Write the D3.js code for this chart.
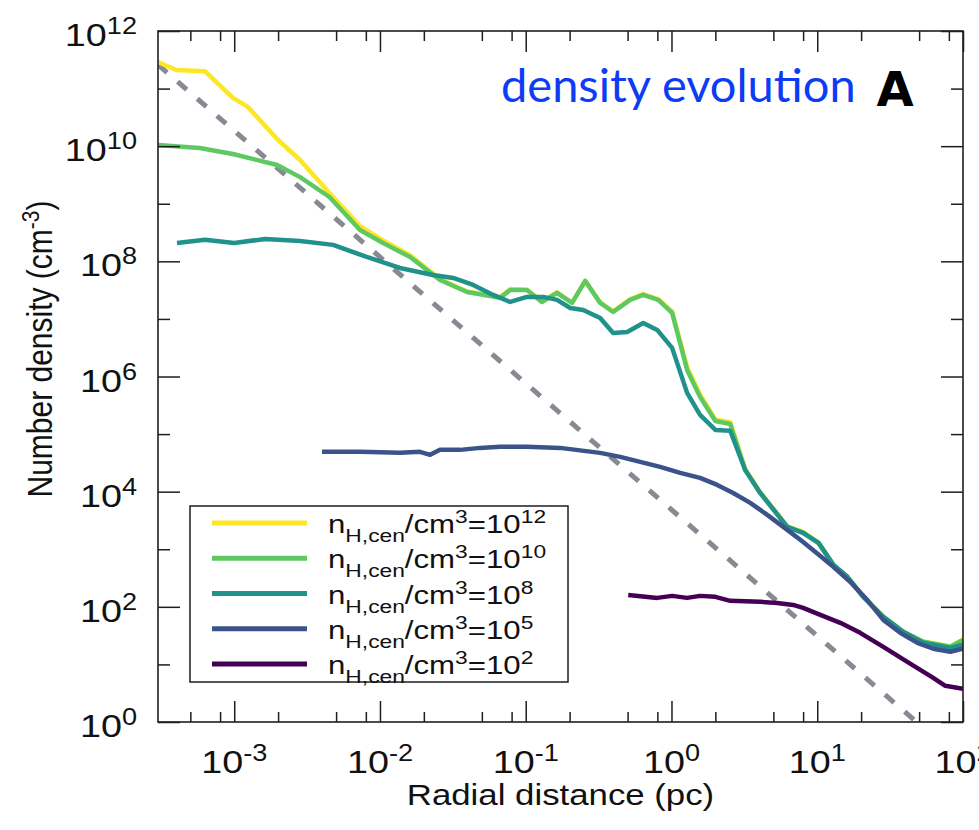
<!DOCTYPE html>
<html>
<head>
<meta charset="utf-8">
<script src="https://cdn.jsdelivr.net/npm/d3@7"></script>
<style>
  html, body { margin: 0; padding: 0; background: #fff; }
  svg { display: block; }
</style>
</head>
<body>
<svg id="chart" width="979" height="830"></svg>
<script>
// Radial density profiles for five central densities (r in pc, n in cm^-3)
const rN12 = [3.0e-4, 4.0e-4, 6.3e-4, 9.8e-4, 1.24e-3, 2.0e-3, 2.83e-3, 4.5e-3, 7.3e-3, 1.05e-2, 1.61e-2, 2.58e-2, 3.96e-2, 6.67e-2, 7.82e-2, 0.102, 0.129, 0.164, 0.208, 0.256, 0.324, 0.398, 0.521, 0.640, 0.811, 1.01, 1.28, 1.57, 2.0, 2.53, 3.2, 4.06, 6.23, 8.0, 10.2, 12.9, 16.1, 20.7, 28.4, 38.9, 53.4, 81.8, 100];
const nN12 = [2.9e11, 2.1e11, 2.0e11, 6.9e10, 4.8e10, 1.28e10, 5.75e9, 1.54e9, 4.1e8, 2.3e8, 1.28e8, 4.9e7, 3.0e7, 2.4e7, 3.3e7, 3.2e7, 2.0e7, 2.9e7, 1.9e7, 4.6e7, 1.95e7, 1.35e7, 2.2e7, 2.7e7, 2.2e7, 1.35e7, 1.45e6, 4.9e5, 1.8e5, 1.6e5, 2.5e4, 9.8e3, 2.5e3, 2.0e3, 1.3e3, 540, 335, 150, 68, 37, 25, 20.5, 27];

const rN10 = [3.0e-4, 5.8e-4, 9.8e-4, 1.97e-3, 2.83e-3, 4.5e-3, 7.3e-3, 1.05e-2, 1.61e-2, 2.58e-2, 3.96e-2, 6.67e-2, 7.82e-2, 0.102, 0.129, 0.164, 0.208, 0.256, 0.324, 0.398, 0.521, 0.640, 0.811, 1.01, 1.28, 1.57, 2.0, 2.53, 3.2, 4.06, 6.23, 8.0, 10.2, 12.9, 16.1, 20.7, 28.4, 38.9, 53.4, 81.8, 100];
const nN10 = [1.05e10, 9.3e9, 7.3e9, 4.7e9, 2.9e9, 1.31e9, 3.5e8, 2.08e8, 1.19e8, 4.75e7, 2.94e7, 2.32e7, 3.18e7, 3.18e7, 1.97e7, 2.83e7, 1.9e7, 4.57e7, 1.9e7, 1.32e7, 2.14e7, 2.61e7, 2.14e7, 1.27e7, 1.30e6, 4.43e5, 1.69e5, 1.5e5, 2.39e4, 9.5e3, 2.45e3, 1.93e3, 1.29e3, 536, 332, 149, 67, 36.8, 24.7, 20.2, 26.7];

const rN8 = [4.05e-4, 6.3e-4, 1.0e-3, 1.63e-3, 2.83e-3, 4.77e-3, 8.1e-3, 1.37e-2, 2.31e-2, 3.18e-2, 4.36e-2, 5.98e-2, 7.82e-2, 0.102, 0.132, 0.164, 0.202, 0.248, 0.324, 0.398, 0.497, 0.640, 0.798, 1.01, 1.28, 1.57, 2.0, 2.53, 3.2, 4.06, 6.23, 8.0, 10.2, 12.9, 16.1, 20.7, 28.4, 38.9, 53.4, 81.8, 100];
const nN8 = [2.08e8, 2.36e8, 2.08e8, 2.45e8, 2.26e8, 1.93e8, 1.19e8, 7.68e7, 5.8e7, 5.15e7, 3.89e7, 2.61e7, 1.97e7, 2.41e7, 2.41e7, 2.14e7, 1.55e7, 1.43e7, 1.04e7, 5.71e6, 5.94e6, 8.5e6, 6.44e6, 3.14e6, 5.19e5, 2.15e5, 1.18e5, 1.14e5, 2.39e4, 9.5e3, 2.45e3, 1.93e3, 1.29e3, 536, 332, 149, 67, 36.8, 23.7, 19.4, 21.9];

const rN5 = [4.0e-3, 7.3e-3, 1.37e-2, 1.88e-2, 2.21e-2, 2.58e-2, 3.55e-2, 4.86e-2, 6.67e-2, 0.102, 0.172, 0.324, 0.445, 0.610, 0.836, 1.148, 1.57, 2.06, 2.65, 3.47, 4.54, 6.23, 8.0, 10.5, 12.9, 16.8, 22.0, 28.4, 37.1, 48.6, 62.5, 81.8, 100];
const nN5 = [4.91e4, 4.91e4, 4.72e4, 4.91e4, 4.36e4, 5.32e4, 5.32e4, 5.76e4, 6.0e4, 6.0e4, 5.76e4, 4.72e4, 4.02e4, 3.29e4, 2.7e4, 2.12e4, 1.74e4, 1.31e4, 9.5e3, 6.4e3, 3.95e3, 2.17e3, 1.34e3, 767, 494, 272, 132, 59.4, 35.4, 23.7, 18.7, 16.6, 18.7];

const rN2 = [0.505, 0.798, 1.01, 1.28, 1.57, 2.0, 2.53, 4.06, 5.31, 6.84, 8.0, 10.5, 14.4, 19.7, 28.4, 41.5, 62.5, 75.6, 100];
const nN2 = [161, 143, 155, 143, 155, 149, 127, 122, 117, 108, 96, 72.6, 52.7, 35.4, 20.2, 11.1, 5.85, 4.25, 3.77];

// Power-law reference (dashed)
const rRef = [3.0e-4, 48];
const nRef = [2.6e11, 1];

const legendExponents = ["12", "10", "8", "5", "2"];
const seriesColors = ["#fde725", "#5ec962", "#21918c", "#3b528b", "#440154"];

const xMajorTicks = [1e-3, 1e-2, 1e-1, 1, 10, 100];
const xMajorLabels = ["-3", "-2", "-1", "0", "1", "2"];
const xMinorMultipliers = [2, 5, 8];
const yMajorTicks = [1, 1e2, 1e4, 1e6, 1e8, 1e10, 1e12];
const yMajorLabels = ["0", "2", "4", "6", "8", "10", "12"];
const yMinorTicks = [1e1, 1e3, 1e5, 1e7, 1e9, 1e11];

const zip = (rs, ns) => rs.map((r, i) => [r, ns[i]]);
const series = [
  { exp: legendExponents[0], color: seriesColors[0], pts: zip(rN12, nN12) },
  { exp: legendExponents[1], color: seriesColors[1], pts: zip(rN10, nN10) },
  { exp: legendExponents[2], color: seriesColors[2], pts: zip(rN8, nN8) },
  { exp: legendExponents[3], color: seriesColors[3], pts: zip(rN5, nN5) },
  { exp: legendExponents[4], color: seriesColors[4], pts: zip(rN2, nN2) }
];

const L = 158, R = 963, T = 31, B = 722;
const FONT = "'Liberation Sans', Arial, Helvetica, sans-serif";
const INK = "#1e1e1e";
const SX = 1.18; // horizontal stretch of the typeset labels

const svg = d3.select("#chart");
svg.append("rect").attr("width", 979).attr("height", 830).attr("fill", "#fff");

const x = d3.scaleLog().domain([3e-4, 100]).range([L, R]);
const y = d3.scaleLog().domain([1, 1e12]).range([B, T]);

const xMinorTicks = [];
for (let e = -4; e <= 1; e++) {
  xMinorMultipliers.forEach(m => {
    const v = m * Math.pow(10, e);
    if (v >= 3e-4 && v <= 100) xMinorTicks.push(v);
  });
}

svg.append("clipPath").attr("id", "plotClip")
  .append("rect").attr("x", L).attr("y", T).attr("width", R - L).attr("height", B - T);

const plot = svg.append("g").attr("clip-path", "url(#plotClip)");
const line = d3.line().x(d => x(d[0])).y(d => y(d[1]));

// dashed power-law guide
plot.append("path")
  .datum(zip(rRef, nRef))
  .attr("d", line)
  .attr("fill", "none")
  .attr("stroke", "#878a92")
  .attr("stroke-width", 5)
  .attr("stroke-dasharray", "12,14");

// density profiles
plot.selectAll("path.profile")
  .data(series)
  .join("path")
  .attr("class", "profile")
  .attr("d", d => line(d.pts))
  .attr("fill", "none")
  .attr("stroke", d => d.color)
  .attr("stroke-width", 4.5)
  .attr("stroke-linejoin", "round")
  .attr("stroke-linecap", "butt");

// axes: inward ticks on all four sides
const noLabel = () => "";
function ticks(axis, tx, ty) {
  svg.append("g")
    .attr("transform", `translate(${tx},${ty})`)
    .call(axis)
    .call(g => g.select(".domain").remove())
    .call(g => g.selectAll("line").attr("stroke", INK).attr("stroke-width", 1.5));
}
ticks(d3.axisBottom(x).tickValues(xMajorTicks).tickSize(-21).tickSizeOuter(0).tickFormat(noLabel), 0, B);
ticks(d3.axisBottom(x).tickValues(xMinorTicks).tickSize(-10).tickSizeOuter(0).tickFormat(noLabel), 0, B);
ticks(d3.axisTop(x).tickValues(xMajorTicks).tickSize(-21).tickSizeOuter(0).tickFormat(noLabel), 0, T);
ticks(d3.axisTop(x).tickValues(xMinorTicks).tickSize(-10).tickSizeOuter(0).tickFormat(noLabel), 0, T);
ticks(d3.axisLeft(y).tickValues(yMajorTicks).tickSize(-22).tickSizeOuter(0).tickFormat(noLabel), L, 0);
ticks(d3.axisLeft(y).tickValues(yMinorTicks).tickSize(-12).tickSizeOuter(0).tickFormat(noLabel), L, 0);
ticks(d3.axisRight(y).tickValues(yMajorTicks).tickSize(-22).tickSizeOuter(0).tickFormat(noLabel), R, 0);
ticks(d3.axisRight(y).tickValues(yMinorTicks).tickSize(-12).tickSizeOuter(0).tickFormat(noLabel), R, 0);

// frame
svg.append("rect")
  .attr("x", L).attr("y", T).attr("width", R - L).attr("height", B - T)
  .attr("fill", "none").attr("stroke", INK).attr("stroke-width", 1.6);

// power-of-ten label: "10" with a raised exponent
function powerLabel(parent, px, py, exp, anchor) {
  const t = parent.append("text")
    .attr("transform", `translate(${px},${py}) scale(${SX},1)`)
    .attr("text-anchor", anchor)
    .attr("font-family", FONT)
    .attr("fill", "#111");
  t.append("tspan").attr("font-size", 32).text("10");
  t.append("tspan").attr("font-size", 23).attr("dy", -12).text(exp);
  return t;
}

xMajorTicks.forEach((v, i) => powerLabel(svg, x(v), 773, xMajorLabels[i], "middle"));
yMajorTicks.forEach((v, i) => powerLabel(svg, 137, y(v) + 15, yMajorLabels[i], "end"));

// axis titles
svg.append("text")
  .attr("transform", `translate(${(L + R) / 2},805) scale(1.2,1)`)
  .attr("text-anchor", "middle")
  .attr("font-family", FONT).attr("font-size", 29).attr("fill", "#111")
  .text("Radial distance (pc)");

const yt = svg.append("text")
  .attr("transform", `translate(52,349) rotate(-90) scale(1,1.15)`)
  .attr("text-anchor", "middle")
  .attr("font-family", FONT).attr("font-size", 30).attr("fill", "#111");
yt.append("tspan").text("Number density (cm");
yt.append("tspan").attr("font-size", 21).attr("dy", -11).text("-3");
yt.append("tspan").attr("dy", 11).text(")");

// legend
const legend = svg.append("g");
legend.append("rect")
  .attr("x", 190).attr("y", 506).attr("width", 378).attr("height", 176)
  .attr("fill", "#fff").attr("stroke", INK).attr("stroke-width", 1.5);

series.forEach((s, i) => {
  const ly = 523 + i * 35.25;
  legend.append("line")
    .attr("x1", 212).attr("x2", 307).attr("y1", ly).attr("y2", ly)
    .attr("stroke", s.color).attr("stroke-width", 5);
  const t = legend.append("text")
    .attr("transform", `translate(328,${ly + 10}) scale(1.2,1)`)
    .attr("font-family", FONT).attr("fill", "#111");
  t.append("tspan").attr("font-size", 26).text("n");
  t.append("tspan").attr("font-size", 19).attr("dy", 9).text("H,cen");
  t.append("tspan").attr("font-size", 26).attr("dy", -9).text("/cm");
  t.append("tspan").attr("font-size", 19).attr("dy", -10).text("3");
  t.append("tspan").attr("font-size", 26).attr("dy", 10).text("=10");
  t.append("tspan").attr("font-size", 19).attr("dy", -10).text(s.exp);
});

// panel annotations
svg.append("text")
  .attr("x", 501).attr("y", 102)
  .attr("font-family", "Lato, 'Open Sans', sans-serif")
  .attr("font-size", 47)
  .attr("fill", "#0d3cf6")
  .text("density evolution");

svg.append("text")
  .attr("x", 895).attr("y", 106)
  .attr("text-anchor", "middle")
  .attr("font-family", "'DejaVu Sans', sans-serif")
  .attr("font-weight", "bold")
  .attr("font-size", 48)
  .attr("fill", "#000")
  .text("A");
</script>
</body>
</html>
